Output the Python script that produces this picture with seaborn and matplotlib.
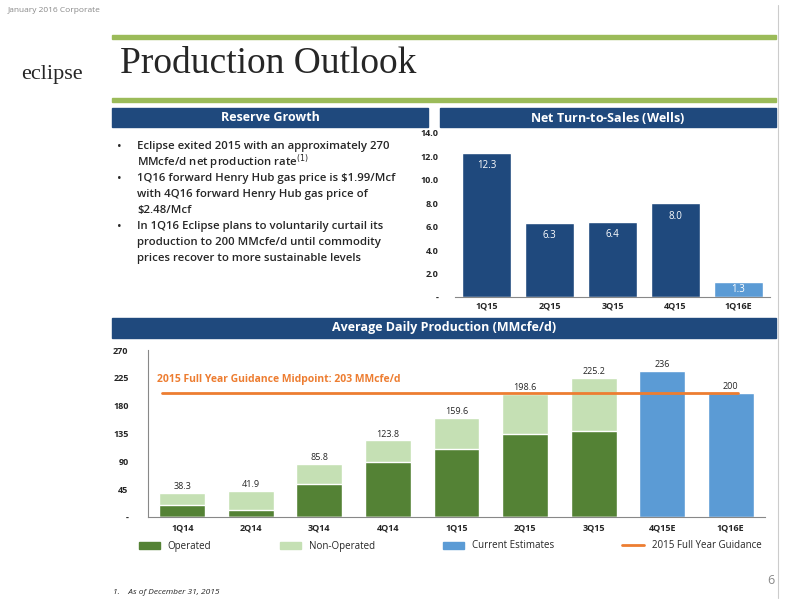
import matplotlib
matplotlib.use("Agg")
import matplotlib.pyplot as plt
import seaborn as sns
import pandas as pd
from matplotlib.patches import Rectangle, Patch
from matplotlib.lines import Line2D

sns.set_style("white")
plt.rcParams['font.family'] = ['Open Sans', 'DejaVu Sans']

# Net turn-to-sales
tts_q = ["1Q15", "2Q15", "3Q15", "4Q15", "1Q16E"]
tts_v = [12.3, 6.3, 6.4, 8.0, 1.3]
tts_ticks = [0, 2, 4, 6, 8, 10, 12, 14]
tts_ticklabels = ["-", "2.0", "4.0", "6.0", "8.0", "10.0", "12.0", "14.0"]

# Average daily production
prod_q = ["1Q14", "2Q14", "3Q14", "4Q14", "1Q15", "2Q15", "3Q15", "4Q15E", "1Q16E"]
operated = [19.5, 11.5, 53.5, 89, 110, 135, 138.5, 0, 0]
totals = [38.3, 41.9, 85.8, 123.8, 159.6, 198.6, 225.2, 236, 200]
total_labels = ["38.3", "41.9", "85.8", "123.8", "159.6", "198.6", "225.2", "236", "200"]
estimate = [0, 0, 0, 0, 0, 0, 0, 236, 200]
guidance = 200
prod_ticks = [0, 45, 90, 135, 180, 225, 270]
prod_ticklabels = ["-", "45", "90", "135", "180", "225", "270"]

NAVY = "#1F497D"
LBLUE = "#5B9BD5"
DGREEN = "#548235"
LGREEN = "#C5E0B4"
ORANGE = "#ED7D31"
LIME = "#9BBB59"

fig = plt.figure(figsize=(8, 6), dpi=100)
W, H = 800, 600
def fx(x): return x / W
def fy(y): return 1 - y / H

# header
fig.text(fx(8), fy(10), "January 2016 Corporate", fontsize=6, color="#888888", va="center")
fig.add_artist(Rectangle((fx(112), fy(39)), fx(664), 4 / H, color=LIME, transform=fig.transFigure))
fig.add_artist(Rectangle((fx(112), fy(102)), fx(664), 4 / H, color=LIME, transform=fig.transFigure))
fig.text(fx(120), fy(64), "Production Outlook", fontsize=27, family=["Liberation Serif", "DejaVu Serif"], va="center")
fig.text(fx(52), fy(75), "eclipse", fontsize=16, family=["Liberation Serif", "DejaVu Serif"], ha="center", va="center")

# section headers
fig.add_artist(Rectangle((fx(112), fy(127)), fx(316), 19 / H, color=NAVY, transform=fig.transFigure))
fig.text(fx(270), fy(117.5), "Reserve Growth", color="white", fontsize=9, fontweight="bold", ha="center", va="center")
fig.add_artist(Rectangle((fx(440), fy(127)), fx(336), 19 / H, color=NAVY, transform=fig.transFigure))
fig.text(fx(608), fy(117.5), r"Net Turn-to-Sales $\mathregular{(Wells)}$", color="white", fontsize=9, fontweight="bold", ha="center", va="center")
fig.add_artist(Rectangle((fx(112), fy(338)), fx(664), 20 / H, color=NAVY, transform=fig.transFigure))
fig.text(fx(444), fy(328), "Average Daily Production (MMcfe/d)", color="white", fontsize=9, fontweight="bold", ha="center", va="center")

lines = [
    ("Eclipse exited 2015 with an approximately 270", True),
    ("MMcfe/d net production rate$^{(1)}$", False),
    ("1Q16 forward Henry Hub gas price is \\$1.99/Mcf", True),
    ("with 4Q16 forward Henry Hub gas price of", False),
    ("\\$2.48/Mcf", False),
    ("In 1Q16 Eclipse plans to voluntarily curtail its", True),
    ("production to 200 MMcfe/d until commodity", False),
    ("prices recover to more sustainable levels", False),
]
for i, (txt, bullet) in enumerate(lines):
    y = 146 + i * 16.1
    if bullet:
        fig.text(fx(117), fy(y), "•", fontsize=9, va="center")
    fig.text(fx(137), fy(y), txt, fontsize=8.2, fontweight="semibold", va="center")

# top chart
ax1 = fig.add_axes([fx(455), fy(297), fx(315), (297 - 133) / H])
df1 = pd.DataFrame({"q": tts_q, "v": tts_v})
sns.barplot(data=df1, x="q", y="v", hue="q", palette=[NAVY] * 4 + [LBLUE], legend=False, ax=ax1, width=0.78, saturation=1)
ax1.set_ylim(0, 14)
ax1.set_yticks(tts_ticks)
ax1.set_yticklabels(tts_ticklabels, fontsize=6.5, fontweight="bold")
ax1.tick_params(axis="x", labelsize=6.5, length=0, pad=3)
ax1.tick_params(axis="y", length=0, pad=12)
for lab in ax1.get_xticklabels(): lab.set_fontweight("bold")
ax1.set_xlabel(""); ax1.set_ylabel("")
for s in ["top", "right", "left"]: ax1.spines[s].set_visible(False)
ax1.spines["bottom"].set_color("#888888")
for i, v in enumerate(tts_v):
    ax1.text(i, v - 1.3 if v > 2 else v - 0.9, f"{v:.1f}", color="white", ha="center", fontsize=7)

# bottom chart
ax2 = fig.add_axes([fx(148), fy(517), fx(617), (517 - 350) / H])
df2 = pd.DataFrame({"q": prod_q, "tot": [t if e == 0 else 0 for t, e in zip(totals, estimate)],
                    "op": operated, "est": estimate})
sns.barplot(data=df2, x="q", y="tot", color=LGREEN, ax=ax2, width=0.67, saturation=1)
sns.barplot(data=df2, x="q", y="op", color=DGREEN, ax=ax2, width=0.67, saturation=1)
sns.barplot(data=df2, x="q", y="est", color=LBLUE, ax=ax2, width=0.67, saturation=1)
ax2.plot([0 - 0.3, 8 + 0.1], [guidance, guidance], color=ORANGE, lw=2)
ax2.text(1.4, 222, "2015 Full Year Guidance Midpoint: 203 MMcfe/d", color=ORANGE, fontsize=7.5, fontweight="bold", ha="center", va="center")
for i, (t, l) in enumerate(zip(totals, total_labels)):
    ax2.text(i, t + 3, l, ha="center", va="bottom", fontsize=6.5)
ax2.set_ylim(0, 270)
ax2.set_xlim(-0.5, 8.5)
ax2.set_yticks(prod_ticks)
ax2.set_yticklabels(prod_ticklabels, fontsize=6.5, fontweight="bold")
ax2.tick_params(axis="x", labelsize=6.5, length=0, pad=5)
ax2.tick_params(axis="y", length=0, pad=14)
for lab in ax2.get_xticklabels(): lab.set_fontweight("bold")
ax2.set_xlabel(""); ax2.set_ylabel("")
for s in ["top", "right"]: ax2.spines[s].set_visible(False)
ax2.spines["left"].set_color("#888888"); ax2.spines["bottom"].set_color("#888888")

handles = [Patch(color=DGREEN, label="Operated"), Patch(color=LGREEN, label="Non-Operated"),
           Patch(color=LBLUE, label="Current Estimates"), Line2D([], [], color=ORANGE, lw=2, label="2015 Full Year Guidance")]
fig.legend(handles=handles, loc="center", bbox_to_anchor=(fx(450), fy(546)), ncol=4, frameon=False,
           fontsize=7, handlelength=2.2, handleheight=0.7, columnspacing=7)

fig.text(fx(113), fy(593), "1.    As of December 31, 2015", fontsize=6, style="italic", va="center")
fig.text(fx(775), fy(580), "6", fontsize=9, color="#888888", ha="right", va="center")
fig.add_artist(Line2D([fx(778), fx(778)], [fy(5), fy(598)], color="#cccccc", lw=0.8, transform=fig.transFigure))

fig.savefig("out.png", dpi=100)
